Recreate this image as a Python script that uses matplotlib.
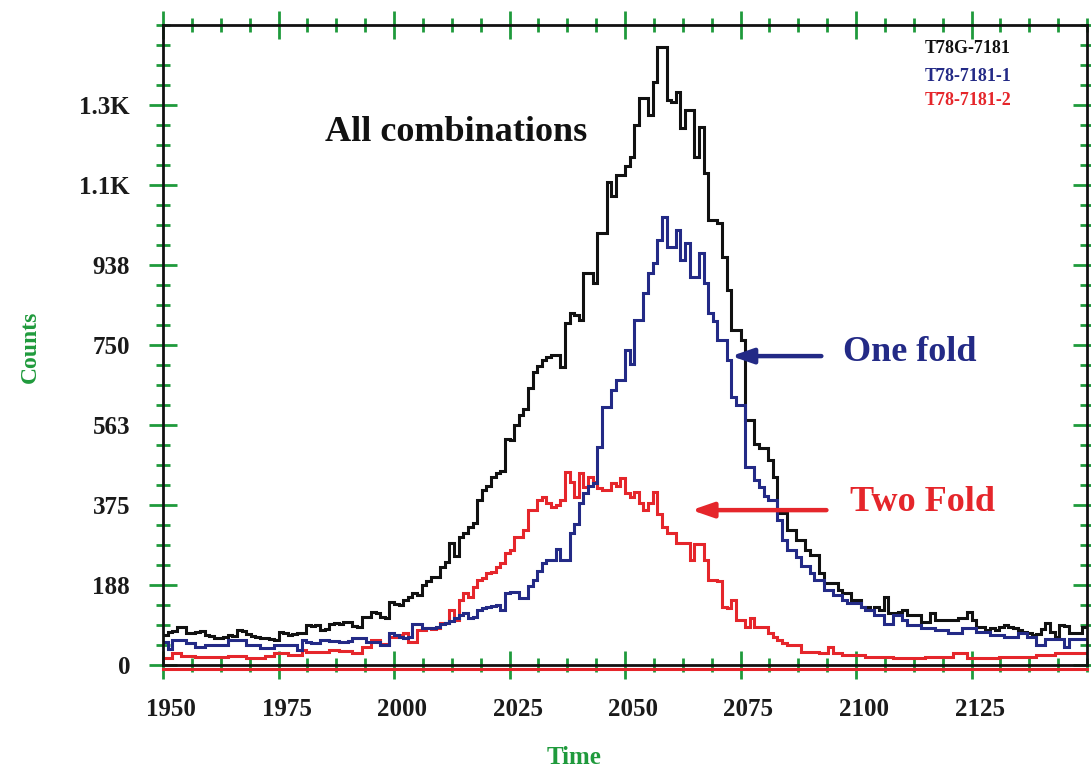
import matplotlib
matplotlib.use("Agg")
import matplotlib.pyplot as plt
import matplotlib.transforms as mtransforms
import numpy as np

plt.rcParams["font.family"] = ["Liberation Serif", "DejaVu Serif"]
plt.rcParams["font.weight"] = "bold"

# Histogram channels: one count per unit of time, starting at 1950
time_start = 1950
time_stop = 2150

all_combinations = [
    70, 78, 80, 90, 88, 74, 76, 78, 80, 70,
    68, 63, 64, 66, 70, 68, 82, 80, 72, 68,
    66, 63, 63, 60, 59, 78, 76, 70, 72, 74,
    74, 94, 92, 94, 82, 84, 96, 98, 95, 101,
    101, 92, 90, 113, 112, 125, 121, 112, 110, 148,
    142, 140, 152, 160, 168, 165, 188, 198, 206, 207,
    230, 242, 286, 255, 300, 309, 324, 333, 387, 410,
    420, 441, 449, 455, 530, 527, 562, 586, 600, 649,
    687, 700, 715, 722, 726, 726, 698, 801, 825, 820,
    808, 919, 919, 895, 1012, 1012, 1132, 1100, 1148, 1148,
    1170, 1190, 1265, 1328, 1328, 1290, 1366, 1449, 1449, 1324,
    1319, 1343, 1258, 1300, 1300, 1190, 1261, 1153, 1043, 1043,
    1035, 956, 879, 785, 785, 762, 574, 574, 519, 508,
    508, 480, 441, 356, 356, 316, 316, 293, 293, 270,
    258, 258, 215, 192, 192, 192, 175, 168, 168, 152,
    152, 137, 137, 129, 137, 129, 160, 121, 121, 125,
    129, 117, 117, 117, 101, 101, 121, 105, 105, 105,
    105, 105, 109, 109, 125, 105, 90, 90, 82, 86,
    82, 90, 94, 88, 86, 82, 78, 76, 70, 72,
    84, 98, 78, 66, 94, 92, 74, 74, 74, 88,
]

one_fold = [
    55, 38, 59, 59, 59, 51, 51, 43, 43, 47,
    47, 47, 47, 47, 59, 59, 59, 59, 47, 47,
    47, 39, 39, 39, 47, 47, 47, 47, 47, 35,
    59, 55, 52, 52, 59, 59, 57, 57, 55, 55,
    57, 63, 63, 63, 55, 55, 55, 48, 48, 74,
    70, 66, 64, 66, 96, 96, 86, 86, 86, 90,
    96, 98, 104, 110, 117, 121, 110, 113, 129, 133,
    137, 138, 140, 129, 168, 172, 172, 158, 156, 186,
    200, 220, 238, 246, 246, 271, 246, 246, 309, 330,
    379, 403, 420, 426, 511, 605, 605, 644, 668, 668,
    738, 705, 809, 809, 872, 919, 942, 996, 1050, 980,
    980, 1019, 949, 989, 909, 909, 965, 895, 825, 807,
    762, 762, 715, 628, 609, 609, 465, 465, 434, 418,
    395, 387, 387, 340, 293, 270, 270, 254, 231, 231,
    215, 199, 199, 176, 176, 164, 164, 152, 145, 145,
    145, 137, 129, 129, 117, 117, 97, 97, 117, 117,
    105, 94, 94, 94, 86, 86, 86, 82, 82, 82,
    74, 74, 74, 86, 86, 86, 78, 78, 78, 70,
    70, 70, 66, 66, 66, 74, 74, 66, 66, 47,
    47, 62, 62, 62, 62, 43, 62, 62, 60, 62,
]

two_fold = [
    16, 16, 27, 27, 20, 20, 20, 19, 19, 19,
    19, 19, 19, 19, 20, 20, 20, 20, 16, 16,
    16, 16, 20, 20, 27, 27, 27, 23, 23, 23,
    35, 31, 31, 31, 31, 31, 35, 35, 33, 33,
    33, 27, 27, 43, 43, 59, 59, 50, 50, 66,
    66, 70, 74, 55, 55, 82, 82, 86, 84, 86,
    98, 98, 129, 105, 152, 169, 160, 183, 199, 203,
    215, 219, 230, 238, 262, 269, 300, 301, 316, 363,
    363, 387, 394, 379, 371, 375, 387, 453, 430, 394,
    450, 418, 441, 430, 414, 410, 410, 426, 420, 438,
    403, 394, 406, 379, 363, 379, 406, 355, 324, 309,
    309, 286, 286, 286, 246, 283, 283, 246, 199, 199,
    196, 137, 133, 152, 105, 105, 90, 109, 90, 88,
    88, 75, 66, 59, 51, 47, 47, 47, 31, 31,
    31, 31, 27, 27, 43, 27, 27, 23, 23, 23,
    23, 23, 19, 19, 19, 19, 19, 19, 16, 16,
    16, 16, 16, 16, 16, 19, 19, 19, 19, 19,
    19, 27, 27, 27, 16, 16, 16, 16, 16, 16,
    16, 19, 19, 19, 19, 19, 19, 19, 19, 23,
    23, 23, 23, 27, 27, 27, 27, 27, 27, 27,
]

series_names = ["T78G-7181", "T78-7181-1", "T78-7181-2"]
y_tick_values = [0, 187.5, 375, 562.5, 750, 937.5, 1125, 1312.5]
y_tick_labels = ["0", "188", "375", "563", "750", "938", "1.1K", "1.3K"]
x_tick_values = [1950, 1975, 2000, 2025, 2050, 2075, 2100, 2125]

BLACK = "#111111"
NAVY = "#232a86"
RED = "#e5262b"
GREEN = "#1f9a3c"

fig = plt.figure(figsize=(10.91, 7.70), dpi=100)
ax = fig.add_axes([163 / 1091, 105 / 770, 924 / 1091, 640 / 770])

edges = np.arange(time_start, time_stop + 1, 1)
lw = 2.2
ax.stairs(two_fold, edges, color=RED, lw=lw, baseline=None, zorder=3)
ax.stairs(all_combinations, edges, color=BLACK, lw=lw, baseline=None, zorder=4)
ax.stairs(one_fold, edges, color=NAVY, lw=lw, baseline=None, zorder=5)

ax.set_xlim(time_start, time_stop)
ax.set_ylim(0, 1500)

# red base line running just under the bottom axis
base_tr = mtransforms.offset_copy(ax.transAxes, fig=fig, y=-3.5, units="dots")
ax.plot([0, 1], [0, 0], color=RED, lw=2.2, transform=base_tr, clip_on=False, zorder=6)

for sp in ax.spines.values():
    sp.set_color(BLACK)
    sp.set_linewidth(2.0)
    sp.set_zorder(7)

ax.set_xticks(x_tick_values)
ax.set_xticks(np.arange(time_start, time_stop + 0.1, 6.25), minor=True)
ax.set_yticks(y_tick_values)
ax.set_yticklabels(y_tick_labels)
ax.set_yticks(np.arange(0, 1500.1, 46.875), minor=True)

ax.tick_params(which="both", direction="inout", color=GREEN,
               top=True, right=True, labelsize=18, labelcolor="#1a1a1a")
ax.tick_params(which="major", length=19.5, width=2.0)
ax.tick_params(which="minor", length=9.5, width=2.0)
ax.tick_params(axis="x", which="major", pad=14)
ax.tick_params(axis="y", which="major", pad=14)

for lab in ax.get_xticklabels():
    lab.set_fontweight("bold")
    lab.set_transform(lab.get_transform() + mtransforms.ScaledTranslation(8 / 100, 0, fig.dpi_scale_trans))
for lab in ax.get_yticklabels():
    lab.set_fontweight("bold")

fig.text(30 / 1091, 1 - 347 / 770, "Counts", rotation=90, ha="center", va="center",
         color=GREEN, fontsize=17, fontweight="bold")
fig.text(574 / 1091, 1 - 757 / 770, "Time", ha="center", va="center",
         color=GREEN, fontsize=18, fontweight="bold")

ax.text(2013.5, 1247, "All combinations", ha="center", va="center",
        color=BLACK, fontsize=26, fontweight="bold", zorder=8)
ax.text(2111.6, 733, "One fold", ha="center", va="center",
        color=NAVY, fontsize=26, fontweight="bold", zorder=8)
ax.text(2114.4, 380, "Two Fold", ha="center", va="center",
        color=RED, fontsize=26, fontweight="bold", zorder=8)

ax.annotate("", xy=(2073.0, 724), xytext=(2092.5, 724),
            arrowprops=dict(arrowstyle="-|>,head_length=1.3,head_width=0.45",
                            color=NAVY, lw=3.2, shrinkA=0, shrinkB=0), zorder=8)
ax.annotate("", xy=(2064.4, 363), xytext=(2093.6, 363),
            arrowprops=dict(arrowstyle="-|>,head_length=1.3,head_width=0.45",
                            color=RED, lw=3.2, shrinkA=0, shrinkB=0), zorder=8)

for name, col, yv in zip(series_names, [BLACK, NAVY, RED], [1444, 1380, 1322]):
    ax.text(2114.8, yv, name, ha="left", va="center", color=col,
            fontsize=13, fontweight="bold", zorder=8)

fig.savefig("out.png", dpi=100)
